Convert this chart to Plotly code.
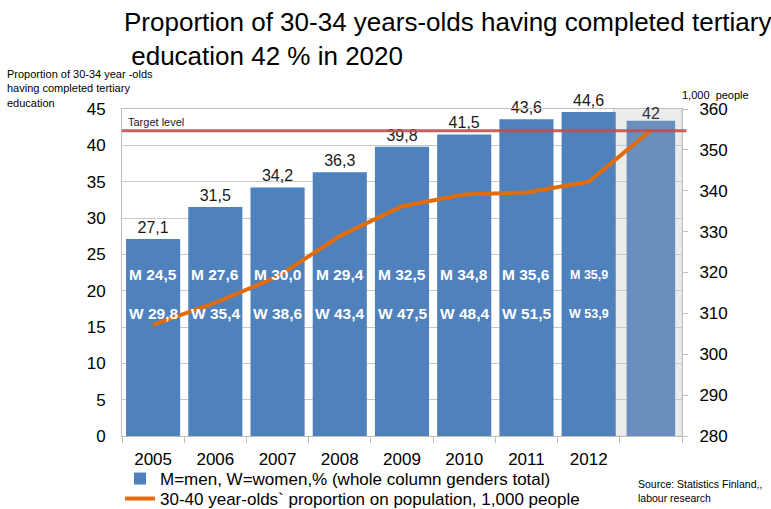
import plotly.graph_objects as go

years = ["2005", "2006", "2007", "2008", "2009", "2010", "2011", "2012"]
total = [27.1, 31.5, 34.2, 36.3, 39.8, 41.5, 43.6, 44.6]
men = [24.5, 27.6, 30.0, 29.4, 32.5, 34.8, 35.6, 35.9]
women = [29.8, 35.4, 38.6, 43.4, 47.5, 48.4, 51.5, 53.9]
target_bar = 43.4
target = 42
population = [307.2, 312.6, 319.0, 328.9, 336.2, 339.1, 339.6, 342.2, 354.8]

FONT = "Liberation Sans, Arial, sans-serif"
BLUE = "#4f81bd"
ORANGE = "#e36c0a"

xi = list(range(len(years)))
x_target = len(years)
x_all = xi + [x_target]

def fmt(v):
    return f"{v:.1f}".replace(".", ",")

W, H = 771, 509
L, R, T, B = 122, 89, 109, 73
pw, ph = W - L - R, H - T - B
def px(x):
    return (x - L) / pw
def py(y):
    return (H - B - y) / ph

fig = go.Figure()

fig.add_shape(type="rect", xref="x", yref="y", x0=x_target - 0.6, x1=x_target + 0.5, y0=0, y1=45.3,
              fillcolor="#ececec", line=dict(color="#d0d0d0", width=1), layer="below")

fig.add_trace(go.Bar(
    x=xi, y=total, marker=dict(color=BLUE, line=dict(width=0)),
    text=[fmt(v) for v in total], textposition="outside",
    textfont=dict(size=16, color="#1a1a1a", family=FONT),
    cliponaxis=False,
    name="M=men, W=women,% (whole column genders total)",
    legend="legend",
))
fig.add_trace(go.Bar(
    x=[x_target], y=[target_bar], marker=dict(color="#6a8fbf", line=dict(width=0)),
    showlegend=False, hoverinfo="skip", width=0.78,
))
fig.add_trace(go.Scatter(
    x=x_all, y=population, yaxis="y2", mode="lines",
    line=dict(color=ORANGE, width=4),
    name="30-40 year-olds` proportion on population, 1,000 people",
    legend="legend2",
))

annotations = []
for i in xi:
    sz = 12.5 if years[i] == "2012" else 15.5
    annotations.append(dict(x=i, y=22.2, xref="x", yref="y", text=f"<b>M {fmt(men[i])}</b>",
                            showarrow=False, font=dict(size=sz, color="white", family=FONT)))
    annotations.append(dict(x=i, y=16.8, xref="x", yref="y", text=f"<b>W {fmt(women[i])}</b>",
                            showarrow=False, font=dict(size=sz, color="white", family=FONT)))

annotations += [
    dict(x=x_target, y=44.4, xref="x", yref="y", text=str(target), showarrow=False,
         font=dict(size=16, color="#333333", family=FONT)),
    dict(x=0.008, y=target, xref="paper", yref="y", text="Target level", showarrow=False,
         xanchor="left", yanchor="bottom", yshift=1,
         font=dict(size=11, color="#1a1a1a", family=FONT)),
    dict(x=px(122), y=py(5), xref="paper", yref="paper", xanchor="left", yanchor="top", align="left",
         text="Proportion of 30-34 years-olds having completed tertiary<br> education 42 % in 2020",
         showarrow=False, font=dict(size=26, color="#000000", family=FONT)),
    dict(x=px(5), y=py(66), xref="paper", yref="paper", xanchor="left", yanchor="top", align="left",
         text="Proportion of 30-34 year -olds<br>having completed tertiary<br>education",
         showarrow=False, font=dict(size=11, color="#000000", family=FONT)),
    dict(x=px(680), y=py(87), xref="paper", yref="paper", xanchor="left", yanchor="top", align="left",
         text="1,000  people", showarrow=False, font=dict(size=11, color="#000000", family=FONT)),
    dict(x=px(636), y=py(476), xref="paper", yref="paper", xanchor="left", yanchor="top", align="left",
         text="Source: Statistics Finland,,<br>labour research", showarrow=False,
         font=dict(size=10.5, color="#000000", family=FONT)),
]

fig.add_shape(type="line", xref="paper", yref="y", x0=0, x1=1.008, y0=target, y1=target,
              line=dict(color="#c0504d", width=3), opacity=0.9)

legend_common = dict(xanchor="left", yanchor="middle",
                     font=dict(size=17, color="#000000", family=FONT),
                     bgcolor="rgba(0,0,0,0)", itemwidth=30, borderwidth=0)

fig.update_layout(
    width=W, height=H,
    margin=dict(l=L, r=R, t=T, b=B, autoexpand=False),
    paper_bgcolor="white", plot_bgcolor="white",
    font=dict(family=FONT, color="#000000"),
    bargap=0.13,
    barmode="overlay",
    showlegend=True,
    legend=dict(x=px(120), y=py(479), **legend_common),
    legend2=dict(x=px(120), y=py(499), **legend_common),
    xaxis=dict(range=[-0.5, x_target + 0.5], tickvals=xi, ticktext=years, tickangle=0,
               showline=True, linecolor="#bfbfbf", linewidth=1, mirror=True,
               ticks="", ticklabelstandoff=8, tickfont=dict(size=17, color="#000000"),
               showgrid=False, zeroline=False,
               minor=dict(tick0=-0.5, dtick=1, ticks="outside", ticklen=6, tickcolor="#bfbfbf",
                          showgrid=False)),
    yaxis=dict(range=[0, 45], dtick=5, showgrid=True, gridcolor="#c8c8c8", gridwidth=1,
               showline=True, linecolor="#bfbfbf", ticks="", ticklabelstandoff=12,
               tickfont=dict(size=17, color="#000000"), zeroline=False),
    yaxis2=dict(range=[280, 360], dtick=10, overlaying="y", side="right", showgrid=False,
                showline=True, linecolor="#bfbfbf", ticks="outside", ticklen=5, tickcolor="#bfbfbf",
                ticklabelstandoff=8,
                tickfont=dict(size=17, color="#000000"), zeroline=False),
    annotations=annotations,
)

fig.write_html("out.html")
